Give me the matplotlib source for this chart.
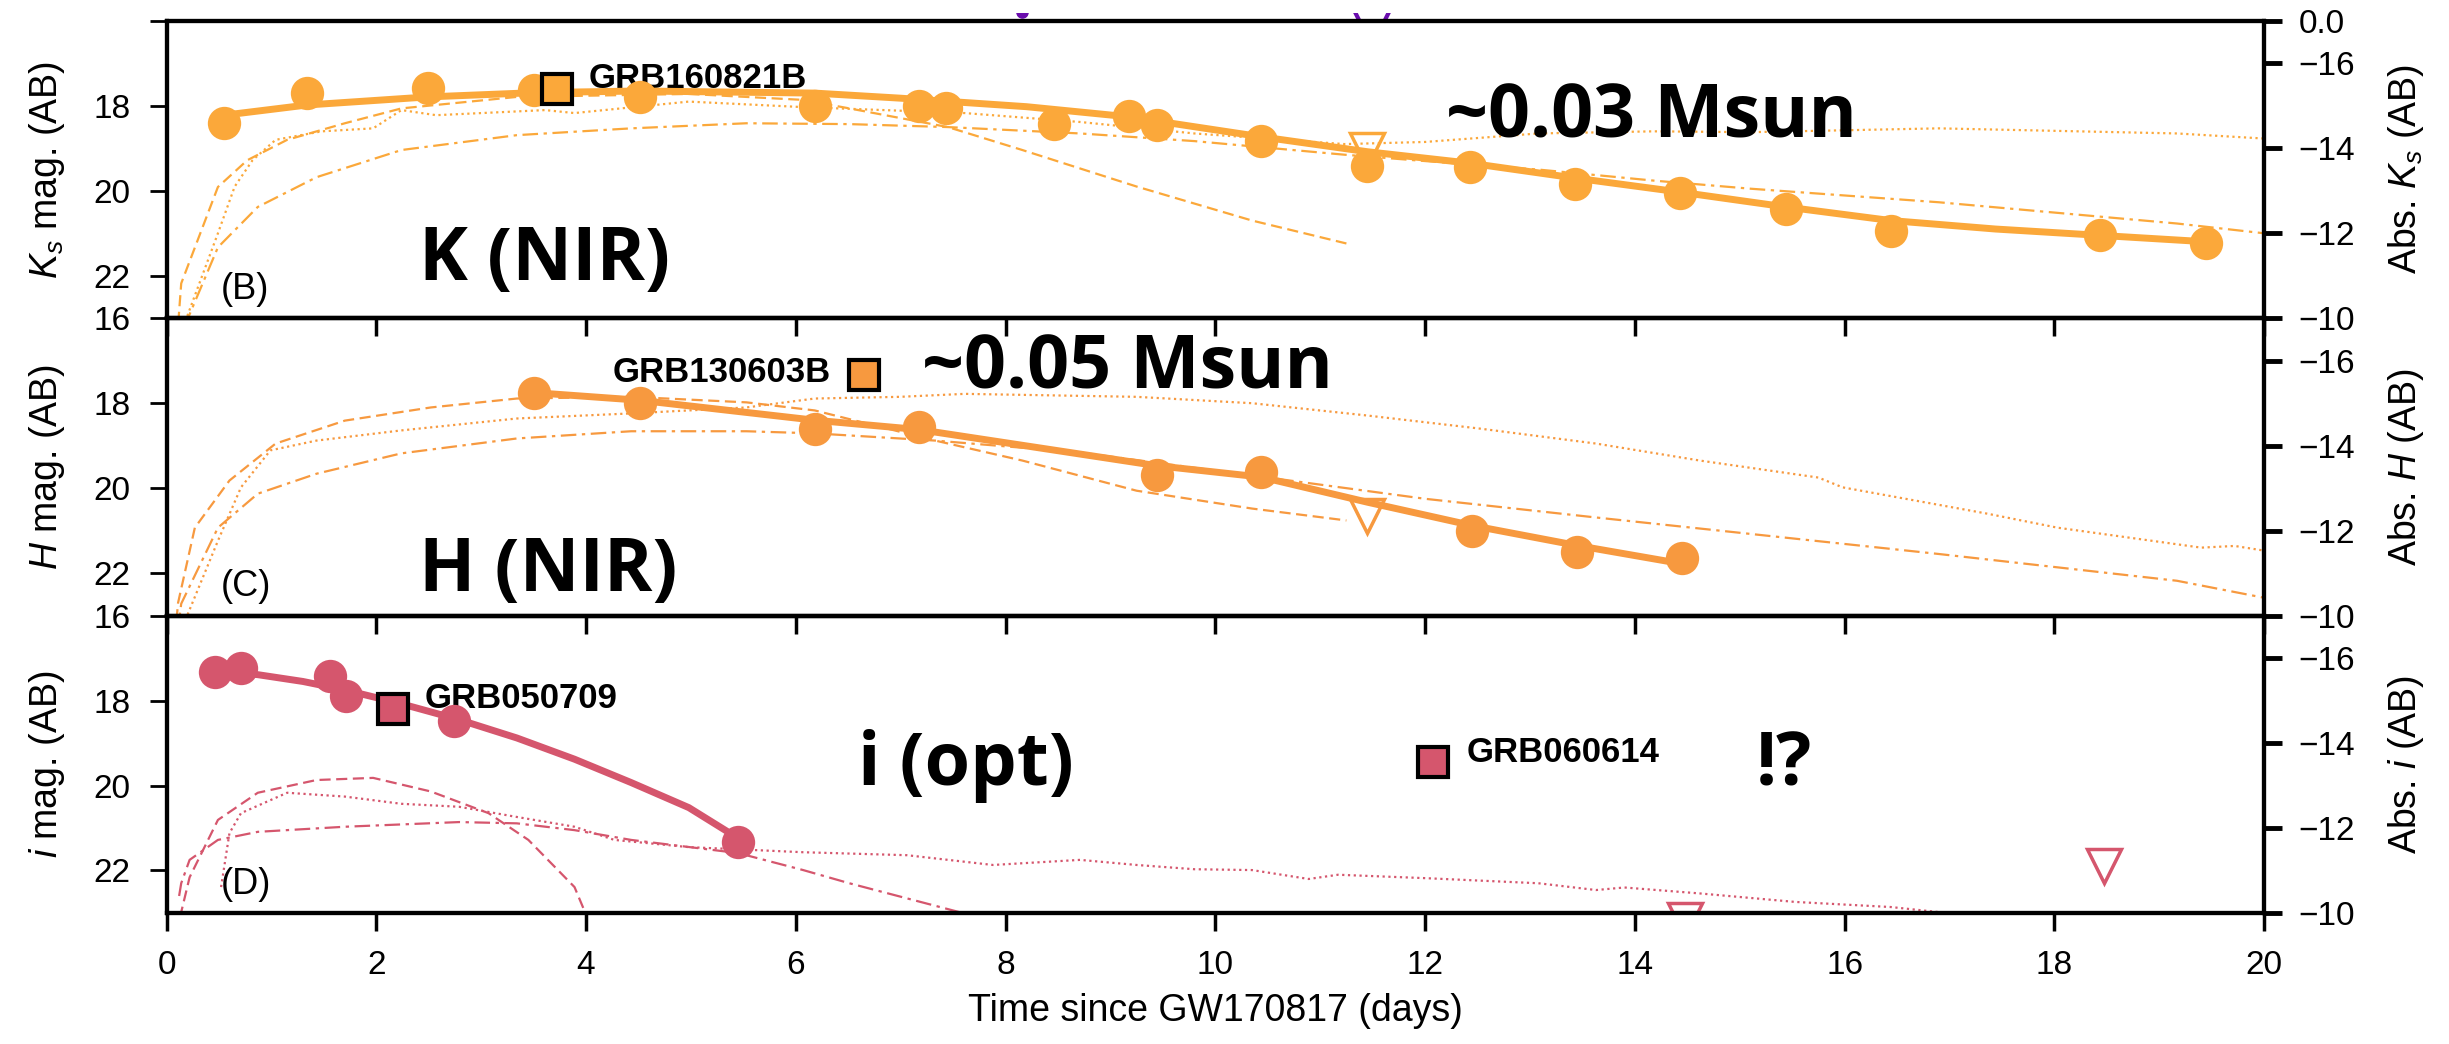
import numpy as np
import matplotlib
matplotlib.use('Agg')
import matplotlib.pyplot as plt
from matplotlib.patches import Rectangle

plt.rcParams['font.family'] = ['Liberation Sans', 'DejaVu Sans']
plt.rcParams['mathtext.fontset'] = 'custom'
plt.rcParams['mathtext.rm'] = 'Liberation Sans'
plt.rcParams['mathtext.it'] = 'Liberation Sans:italic'

DM = 33.0  # apparent -> absolute offset

# ---------------- K band (panel B) ----------------
k_t = [0.55, 1.34, 2.49, 3.50, 4.51, 6.18, 7.17, 7.43, 8.46, 9.18, 9.44, 10.44,
       11.45, 12.43, 13.43, 14.43, 15.44, 16.44, 18.44, 19.45]
k_mag = [18.41, 17.70, 17.58, 17.63, 17.79, 18.00, 18.00, 18.06, 18.43, 18.24, 18.45, 18.82,
         19.41, 19.43, 19.83, 20.05, 20.42, 20.95, 21.05, 21.23]
k_fit_t = [0.55, 1.34, 2.49, 3.50, 4.51, 6.18, 7.00, 8.20, 9.18, 10.44, 11.45, 12.43,
           13.43, 14.43, 15.44, 16.44, 17.44, 18.44, 19.45]
k_fit_mag = [18.22, 17.98, 17.79, 17.69, 17.65, 17.70, 17.82, 18.02, 18.26, 18.73, 19.08, 19.35,
             19.70, 20.03, 20.38, 20.70, 20.90, 21.05, 21.20]
k_lim_t = [11.45]
k_lim_mag = [19.05]
k_dash_t = [0.10, 0.14, 0.49, 0.77, 1.15, 1.70, 2.24, 3.34, 4.98, 6.07, 6.51, 7.45,
            8.16, 9.25, 10.35, 11.25]
k_dash_mag = [23.5, 22.18, 19.91, 19.28, 18.80, 18.41, 18.06, 17.79, 17.72, 17.86, 18.06, 18.50,
              19.04, 19.90, 20.70, 21.24]
k_dot_t = [0.16, 0.49, 0.65, 0.82, 1.04, 1.48, 1.97, 2.24, 2.57, 3.61, 3.89, 4.98, 6.07,
           7.61, 8.71, 9.80, 11.23, 12.00, 13.08, 14.18, 15.10, 16.90, 19.17, 20.00]
k_dot_mag = [23.2, 21.0, 19.9, 19.28, 18.80, 18.60, 18.53, 18.10, 18.22, 18.10, 18.17, 17.90, 18.03,
             18.17, 18.38, 18.65, 18.90, 18.85, 18.65, 18.60, 18.62, 18.53, 18.65, 18.77]
k_dd_t = [0.17, 0.49, 0.87, 1.43, 2.24, 3.34, 4.43, 5.53, 6.51, 7.45, 8.71, 9.80,
          11.23, 12.00, 13.08, 14.18, 15.10, 16.90, 19.17, 20.00]
k_dd_mag = [23.2, 21.33, 20.38, 19.68, 19.04, 18.69, 18.53, 18.41, 18.43, 18.50, 18.65, 18.83,
            19.15, 19.30, 19.50, 19.76, 19.95, 20.27, 20.77, 21.00]

# ---------------- H band (panel C) ----------------
h_t = [3.50, 4.51, 6.18, 7.17, 9.44, 10.44, 12.45, 13.45, 14.45]
h_mag = [17.75, 18.00, 18.60, 18.55, 19.68, 19.63, 21.00, 21.50, 21.64]
h_fit_t = [3.50, 4.51, 6.18, 7.17, 9.44, 10.44, 11.45, 12.45, 13.45, 14.45]
h_fit_mag = [17.75, 17.93, 18.40, 18.62, 19.47, 19.74, 20.33, 20.88, 21.35, 21.78]
h_lim_t = [11.45]
h_lim_mag = [20.65]
h_dash_t = [0.08, 0.11, 0.27, 0.60, 1.04, 1.70, 2.52, 3.34, 4.43, 5.53, 6.18, 7.33,
            8.16, 9.25, 10.35, 11.25]
h_dash_mag = [23.5, 22.7, 20.93, 19.82, 18.95, 18.41, 18.10, 17.89, 17.85, 17.98, 18.17, 18.88,
              19.35, 20.06, 20.48, 20.76]
h_dot_t = [0.18, 0.49, 0.71, 0.99, 1.43, 2.24, 3.34, 4.43, 5.53, 6.18, 6.99, 7.61, 9.25,
           10.35, 11.45, 12.53, 13.63, 14.62, 15.75, 15.98, 17.36, 18.03, 19.40, 19.72, 20.00]
h_dot_mag = [23.1, 21.24, 19.98, 19.11, 18.88, 18.64, 18.36, 18.24, 18.10, 17.89, 17.85, 17.78, 17.85,
             18.00, 18.29, 18.60, 18.95, 19.35, 19.75, 19.98, 20.60, 20.93, 21.40, 21.36, 21.47]
h_dd_t = [0.10, 0.14, 0.49, 0.87, 1.43, 2.24, 3.34, 4.43, 5.53, 6.18, 7.33, 8.71,
          10.35, 12.00, 13.63, 14.62, 16.90, 19.17, 20.00]
h_dd_mag = [23.5, 22.72, 20.93, 20.13, 19.66, 19.18, 18.83, 18.66, 18.66, 18.71, 18.88, 19.16,
            19.70, 20.25, 20.69, 20.95, 21.55, 22.18, 22.58]

# ---------------- i band (panel D) ----------------
i_t = [0.46, 0.71, 1.56, 1.71, 2.74, 5.45]
i_mag = [17.32, 17.23, 17.41, 17.90, 18.47, 21.33]
i_fit_t = [0.46, 0.87, 1.30, 1.70, 2.20, 2.79, 3.34, 3.89, 4.43, 4.98, 5.45]
i_fit_mag = [17.30, 17.39, 17.55, 17.75, 18.05, 18.45, 18.88, 19.38, 19.93, 20.52, 21.24]
i_lim_t = [14.48, 18.47]
i_lim_mag = [23.17, 21.90]
i_dash_t = [0.12, 0.14, 0.22, 0.49, 0.87, 1.43, 1.97, 2.52, 3.07, 3.45, 3.89, 3.99]
i_dash_mag = [23.5, 22.98, 22.16, 20.81, 20.17, 19.87, 19.82, 20.14, 20.65, 21.28, 22.39, 22.98]
i_dot_t = [0.52, 0.60, 0.71, 1.15, 1.70, 2.24, 2.79, 3.34, 3.89, 4.27, 4.98, 6.07, 7.06,
           7.88, 8.71, 9.25, 9.80, 10.35, 10.89, 11.17, 12.00, 13.08, 13.63, 13.90, 14.62,
           15.53, 16.44, 16.90, 17.20]
i_dot_mag = [22.39, 21.12, 20.65, 20.17, 20.26, 20.43, 20.50, 20.74, 20.97, 21.28, 21.45, 21.57, 21.64,
             21.87, 21.75, 21.87, 21.97, 21.99, 22.20, 22.10, 22.18, 22.30, 22.46, 22.40, 22.54,
             22.74, 22.86, 22.98, 23.10]
i_dd_t = [0.12, 0.14, 0.22, 0.49, 0.87, 1.70, 2.79, 3.34, 3.89, 4.43, 5.45, 6.07, 6.51, 7.56, 8.00]
i_dd_mag = [22.6, 22.30, 21.75, 21.28, 21.09, 20.97, 20.86, 20.89, 21.05, 21.28, 21.59, 21.99, 22.30,
            22.98, 23.30]

# comparison short GRB kilonovae (squares)
grb_names = ['GRB160821B', 'GRB130603B', 'GRB050709', 'GRB060614']
grb_t = [3.72, 6.65, 2.16, 12.08]
grb_mag = [17.60, 17.34, 18.20, 19.44]

# marks of the panel above that peek over the top edge
above_lim_t = [11.49]
above_lim_mag = [16.17]
above_dot_t = [8.16]
above_dot_mag = [15.80]

# colours
c_k = '#FBA83A'
c_h = '#F7993F'
c_i = '#D5566D'
c_purple = '#6A0DAD'

fig, axes = plt.subplots(3, 1, sharex=True, figsize=(24.49, 10.44), dpi=100)
fig.subplots_adjust(left=0.068, right=0.9245, top=0.98, bottom=0.1255, hspace=0)

bands = [
    dict(t=k_t, m=k_mag, ft=k_fit_t, fm=k_fit_mag, lt=k_lim_t, lm=k_lim_mag,
         dt=k_dash_t, dm=k_dash_mag, ot=k_dot_t, om=k_dot_mag, ddt=k_dd_t, ddm=k_dd_mag,
         c=c_k, lab='$K_s$', tag='(B)'),
    dict(t=h_t, m=h_mag, ft=h_fit_t, fm=h_fit_mag, lt=h_lim_t, lm=h_lim_mag,
         dt=h_dash_t, dm=h_dash_mag, ot=h_dot_t, om=h_dot_mag, ddt=h_dd_t, ddm=h_dd_mag,
         c=c_h, lab='$H$', tag='(C)'),
    dict(t=i_t, m=i_mag, ft=i_fit_t, fm=i_fit_mag, lt=i_lim_t, lm=i_lim_mag,
         dt=i_dash_t, dm=i_dash_mag, ot=i_dot_t, om=i_dot_mag, ddt=i_dd_t, ddm=i_dd_mag,
         c=c_i, lab='$i$', tag='(D)'),
]

tick_fs = 24
label_fs = 27

for n, (ax, b) in enumerate(zip(axes, bands)):
    ax.patch.set_visible(False)
    c = b['c']
    # models
    ax.plot(b['dt'], b['dm'], color=c, lw=1.6, ls=(0, (5, 2.5)), zorder=2)
    ax.plot(b['ot'], b['om'], color=c, lw=1.6, ls=(0, (1, 1.6)), zorder=2)
    ax.plot(b['ddt'], b['ddm'], color=c, lw=1.6, ls=(0, (7, 2.5, 1.5, 2.5)), zorder=2)
    # upper limits
    ax.plot(b['lt'], b['lm'], ls='none', marker='v', ms=25, mfc='none', mec=c, mew=2.5, zorder=3)
    # data + fit
    ax.plot(b['ft'], b['fm'], color=c, lw=5, solid_capstyle='round', zorder=4)
    ax.plot(b['t'], b['m'], ls='none', marker='o', ms=24, color=c, mec='none', zorder=5)

    ax.set_xlim(0, 20)
    ax.set_ylim(23, 16)
    for s in ax.spines.values():
        s.set_linewidth(3)
    ax.set_yticks([16, 18, 20, 22])
    if n == 0:
        ax.set_yticklabels(['', '18', '20', '22'])
    ax.set_xticks(np.arange(0, 21, 2))
    ax.tick_params(axis='y', direction='out', length=12, width=2, pad=14, labelsize=tick_fs)
    ax.tick_params(axis='x', direction='out', length=13, width=2.5, pad=14, labelsize=tick_fs)
    ax.set_ylabel(b['lab'] + ' mag. (AB)', fontsize=label_fs, labelpad=19)
    ax.text(0.52, 22.55, b['tag'], fontsize=26, ha='left', va='baseline')

    ax2 = ax.twinx()
    ax2.set_ylim(23 - DM, 16 - DM)
    if n == 0:
        ax2.set_yticks([-17, -16, -14, -12, -10])
        ax2.set_yticklabels(['0.0', '\u221216', '\u221214', '\u221212', '\u221210'])
    else:
        ax2.set_yticks([-16, -14, -12, -10])
        ax2.set_yticklabels(['\u221216', '\u221214', '\u221212', '\u221210'])
    ax2.tick_params(axis='y', direction='out', length=13, width=3.5, pad=12, labelsize=tick_fs)
    for s in ax2.spines.values():
        s.set_linewidth(3)
    ax2.set_ylabel('Abs. ' + b['lab'] + ' (AB)', fontsize=label_fs, labelpad=22)

axB, axC, axD = axes
axD.set_xlabel('Time since GW170817 (days)', fontsize=label_fs, labelpad=8)

# squares for the short GRBs
sq_colors = [c_k, c_h, c_i, c_i]
sq_axes = [axB, axC, axD, axD]
for ax, t, m, fc in zip(sq_axes, grb_t, grb_mag, sq_colors):
    ax.plot([t], [m], ls='none', marker='s', ms=22, mfc=fc, mec='black', mew=3, zorder=6)

lab_kw = dict(fontsize=25, fontweight='bold', va='baseline')
axB.text(4.02, 17.58, grb_names[0], ha='left', **lab_kw)
axC.text(6.33, 17.50, grb_names[1], ha='right', **lab_kw)
axD.text(2.46, 18.17, grb_names[2], ha='left', **lab_kw)
axD.text(12.40, 19.44, grb_names[3], ha='left', **lab_kw)

big_kw = dict(fontsize=53, fontweight='bold', va='baseline', ha='left',
              family=['Open Sans', 'DejaVu Sans'])
axB.text(2.41, 22.10, 'K (NIR)', **big_kw)
axB.text(12.20, 18.74, '~0.03 Msun', **big_kw)
axC.text(7.20, 17.65, '~0.05 Msun', **big_kw)
axC.text(2.41, 22.42, 'H (NIR)', **big_kw)
axD.text(6.59, 19.98, 'i (opt)', **big_kw)
axD.text(15.15, 19.99, '!?', **big_kw)

# only the sliver between the cropped top edge and panel B shows these
strip = Rectangle((0, 1 - 21 / 1044), 1, 8 / 1044, transform=fig.transFigure)
l1, = axB.plot(above_lim_t, above_lim_mag, ls='none', marker='v', ms=26, mfc='none',
               mec=c_purple, mew=3, clip_on=False, zorder=1)
l2, = axB.plot(above_dot_t, above_dot_mag, ls='none', marker='o', ms=8, color=c_purple,
               clip_on=False, zorder=1)
for ln in (l1, l2):
    ln.set_clip_on(True)
    ln.set_clip_path(strip)

fig.savefig('out.png', dpi=100)
